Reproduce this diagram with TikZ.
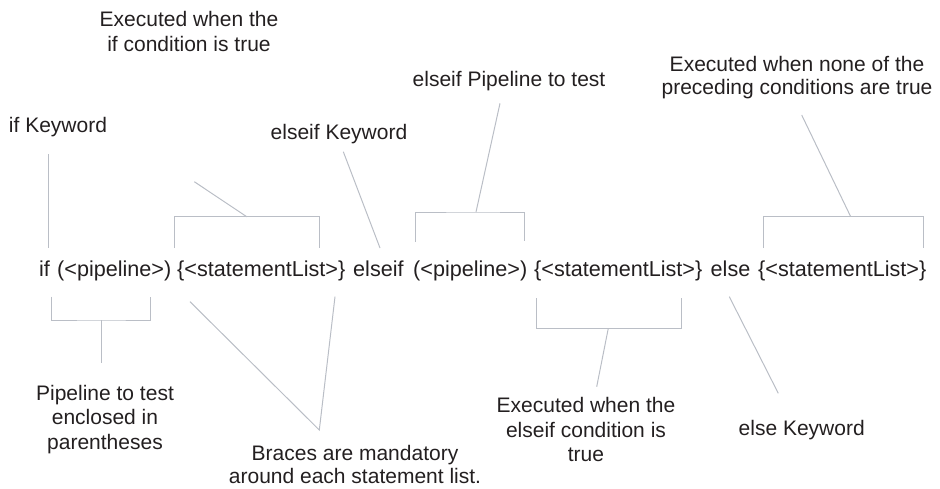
\documentclass[tikz,border=0pt]{standalone}
\usepackage{fontspec}
\setmainfont{Liberation Sans}
\definecolor{ln}{RGB}{186,190,198}
\definecolor{txt}{RGB}{35,31,32}
\begin{document}
\begin{tikzpicture}[x=1pt,y=-1pt,
  lbl/.style={inner sep=0pt, anchor=base, align=center, text=txt, font=\fontsize{21}{24.5}\selectfont},
  code/.style={inner sep=0pt, anchor=base west, text=txt, font=\fontsize{21.6}{26}\selectfont},
  lead/.style={draw=ln, line width=1pt}]
\useasboundingbox (0,0) rectangle (940,488);

% main statement line
\node[code] (kif) at (39,276.5) {if};
\node[code] (p1) at (57,276.5) {(<pipeline>)};
\node[code] (s1) at (177,276.5) {\{<statementList>\}};
\node[code] (kelseif) at (353,276.5) {elseif};
\node[code] (p2) at (413,276.5) {(<pipeline>)};
\node[code] (s2) at (534,276.5) {\{<statementList>\}};
\node[code] (kelse) at (710.5,276.5) {else};
\node[code] (s3) at (758,276.5) {\{<statementList>\}};

% labels (base = baseline of the last line)
\node[lbl] (Lif) at (58,132) {if Keyword};
\node[lbl] (Lthen) at (189,51) {Executed when the\\if condition is true};
\node[lbl] (Lelseif) at (339,139) {elseif Keyword};
\node[lbl] (Lpipe2) at (509,86) {elseif Pipeline to test};
\node[lbl] (Lnone) at (797,94) {Executed when none of the\\[-2pt]preceding conditions are true};
\node[lbl] (Lpipe1) at (105,449) {Pipeline to test\\enclosed in\\parentheses};
\node[lbl] (Lbraces) at (355,483) {Braces are mandatory\\[-1.5pt]around each statement list.};
\node[lbl] (Lthen2) at (586,461.7) {Executed when the\\elseif condition is\\true};
\node[lbl] (Lelse) at (801.7,435) {else Keyword};

% leader end points
\coordinate (aif1) at (48,154);
\coordinate (aif2) at (48,248);
\coordinate (b1a) at (174,248);
\coordinate (b1b) at (319.3,248);
\coordinate (b1m) at (246.7,216.7);
\coordinate (b1t) at (194.3,181.7);
\coordinate (ae1) at (343.3,151.7);
\coordinate (ae2) at (380,248);
\coordinate (b2a) at (415.7,242);
\coordinate (b2b) at (524.3,241);
\coordinate (b2m) at (476,212);
\coordinate (b2t) at (500,103.3);
\coordinate (b3a) at (763.3,248);
\coordinate (b3b) at (923.3,248);
\coordinate (b3m) at (850.7,216.7);
\coordinate (b3t) at (801.7,115);
\coordinate (b4a) at (51,296.7);
\coordinate (b4b) at (150,296.7);
\coordinate (b4m) at (101.7,320);
\coordinate (b4t) at (101.7,363.3);
\coordinate (br1) at (190,301.7);
\coordinate (br2) at (335,296.7);
\coordinate (brt) at (319.3,430);
\coordinate (b5a) at (536.7,298.3);
\coordinate (b5b) at (681.7,298.3);
\coordinate (b5m) at (608.3,328.3);
\coordinate (b5t) at (596.7,386.7);
\coordinate (al1) at (729.3,296.7);
\coordinate (al2) at (778.3,393.3);

% if keyword
\draw[lead] (aif1) -- (aif2);
% bracket over first statement list
\draw[lead] (b1a) |- (b1m) -| (b1b);
\draw[lead] (b1m) -- (b1t);
% elseif keyword
\draw[lead] (ae1) -- (ae2);
% bracket over second pipeline
\draw[lead] (b2a) |- (b2m) -| (b2b);
\draw[lead] (b2m) -- (b2t);
% bracket over last statement list
\draw[lead] (b3a) |- (b3m) -| (b3b);
\draw[lead] (b3m) -- (b3t);
% bracket under first pipeline
\draw[lead] (b4a) |- (b4m) -| (b4b);
\draw[lead] (b4m) -- (b4t);
% braces
\draw[lead] (br1) -- (brt) -- (br2);
% bracket under second statement list
\draw[lead] (b5a) |- (b5m) -| (b5b);
\draw[lead] (b5m) -- (b5t);
% else keyword
\draw[lead] (al1) -- (al2);
\end{tikzpicture}
\end{document}
